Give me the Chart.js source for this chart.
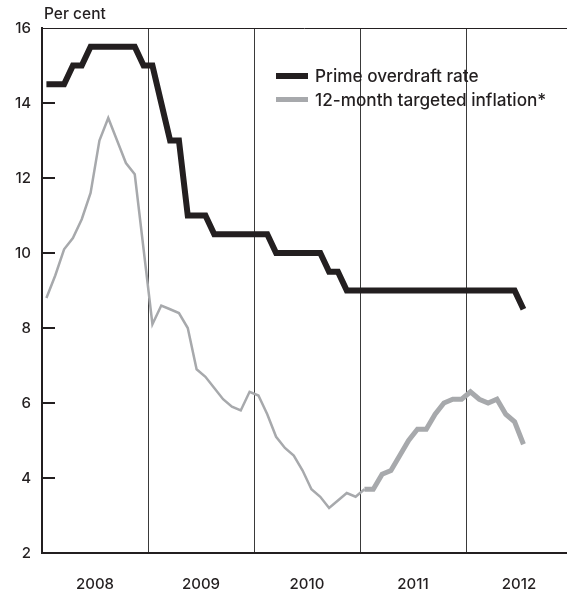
<!DOCTYPE html>
<html>
<head>
<meta charset="utf-8">
<script src="https://cdn.jsdelivr.net/npm/chart.js@4"></script>
<style>
  body { margin: 0; background: #fff; }
  #wrap { position: relative; width: 567px; height: 599px; }
  .txt { position: absolute; font-family: Inter, "Liberation Sans", Arial, sans-serif; font-weight: 500; color: #231f20; font-size: 15.5px; white-space: nowrap; }
  .leg { font-size: 17.2px; }
  .key { position: absolute; left: 276px; width: 32px; }
</style>
</head>
<body>
<div id="wrap">
  <canvas id="chart" width="567" height="599"></canvas>
  <div class="txt" style="left:44px; top:4px;">Per cent</div>
  <div class="key" style="top:73px; height:6px; background:#231f20;"></div>
  <div class="txt leg" style="left:315px; top:65px;">Prime overdraft rate</div>
  <div class="key" style="top:97px; height:5px; background:#a7a9ac;"></div>
  <div class="txt leg" style="left:315px; top:89px;">12-month targeted inflation*</div>
</div>
<script>
// monthly, Jan 2008 - Jul 2012
const years = ['2008', '2009', '2010', '2011', '2012'];

const primeRate = [
  14.5, 14.5, 14.5, 15.0, 15.0, 15.5, 15.5, 15.5, 15.5, 15.5, 15.5, 15.0,
  15.0, 14.0, 13.0, 13.0, 11.0, 11.0, 11.0, 10.5, 10.5, 10.5, 10.5, 10.5,
  10.5, 10.5, 10.0, 10.0, 10.0, 10.0, 10.0, 10.0, 9.5, 9.5, 9.0, 9.0,
  9.0, 9.0, 9.0, 9.0, 9.0, 9.0, 9.0, 9.0, 9.0, 9.0, 9.0, 9.0,
  9.0, 9.0, 9.0, 9.0, 9.0, 9.0, 8.5
];

const inflation = [
  8.8, 9.4, 10.1, 10.4, 10.9, 11.6, 13.0, 13.6, 13.0, 12.4, 12.1, 10.1,
  8.1, 8.6, 8.5, 8.4, 8.0, 6.9, 6.7, 6.4, 6.1, 5.9, 5.8, 6.3,
  6.2, 5.7, 5.1, 4.8, 4.6, 4.2, 3.7, 3.5, 3.2, 3.4, 3.6, 3.5,
  3.7, 3.7, 4.1, 4.2, 4.6, 5.0, 5.3, 5.3, 5.7, 6.0, 6.1, 6.1,
  6.3, 6.1, 6.0, 6.1, 5.7, 5.5, 4.9
];

const yTicks = [2, 4, 6, 8, 10, 12, 14, 16];

const ink = '#231f20';
const grey = '#a7a9ac';
const fontFamily = 'Inter, "Liberation Sans", Arial, sans-serif';

// month i plotted in the middle of its month slot
const toPoints = arr => arr.map((v, i) => ({ x: i + 0.5, y: v }));

const frame = {
  id: 'frame',
  afterDraw(chart) {
    const { ctx, chartArea: a, scales } = chart;
    ctx.save();
    ctx.strokeStyle = ink;
    // top border
    ctx.lineWidth = 1;
    ctx.beginPath();
    ctx.moveTo(a.left, a.top + 0.5);
    ctx.lineTo(a.right, a.top + 0.5);
    ctx.stroke();
    // inward tick marks on the value axis
    ctx.lineWidth = 2;
    yTicks.forEach(v => {
      if (v === 2 || v === 16) return;
      const y = Math.round(scales.y.getPixelForValue(v));
      ctx.beginPath();
      ctx.moveTo(a.left, y);
      ctx.lineTo(a.left + 13, y);
      ctx.stroke();
    });
    ctx.restore();
  }
};

new Chart(document.getElementById('chart'), {
  type: 'line',
  data: {
    datasets: [
      {
        label: 'Prime overdraft rate',
        data: toPoints(primeRate),
        borderColor: ink,
        borderWidth: 6,
        borderJoinStyle: 'miter',
        pointRadius: 0,
        tension: 0
      },
      {
        label: '12-month targeted inflation*',
        data: toPoints(inflation),
        borderColor: grey,
        borderWidth: 2.5,
        pointRadius: 0,
        tension: 0,
        segment: {
          borderWidth: c => c.p0DataIndex >= 36 ? 5 : 2.5
        }
      }
    ]
  },
  options: {
    responsive: false,
    animation: false,
    layout: { padding: { top: 28, right: 0, left: 0, bottom: 0 } },
    plugins: {
      legend: { display: false },
      tooltip: { enabled: false }
    },
    scales: {
      x: {
        type: 'linear',
        min: 0,
        max: 59.43,
        afterBuildTicks: s => {
          s.ticks = [6, 12, 18, 24, 30, 36, 42, 48, 54].map(v => ({ value: v }));
        },
        afterFit: s => { s.height = 46; },
        ticks: {
          autoSkip: false,
          maxRotation: 0,
          padding: 22,
          color: ink,
          font: { family: fontFamily, size: 15, weight: 500 },
          callback: v => (v % 12 === 6 ? years[(v - 6) / 12] : '')
        },
        grid: {
          drawTicks: false,
          lineWidth: 1,
          color: c => (c.tick && c.tick.value % 12 === 0 ? '#3a3a3a' : 'rgba(0,0,0,0)')
        },
        border: { display: true, color: ink, width: 2 }
      },
      y: {
        min: 2,
        max: 16,
        afterBuildTicks: s => {
          s.ticks = yTicks.map(v => ({ value: v }));
        },
        afterFit: s => { s.width = 42; },
        ticks: {
          padding: 11,
          color: ink,
          font: { family: fontFamily, size: 15, weight: 500 }
        },
        grid: { display: false, drawTicks: false },
        border: { display: true, color: ink, width: 2 }
      }
    }
  },
  plugins: [frame]
});
</script>
</body>
</html>
